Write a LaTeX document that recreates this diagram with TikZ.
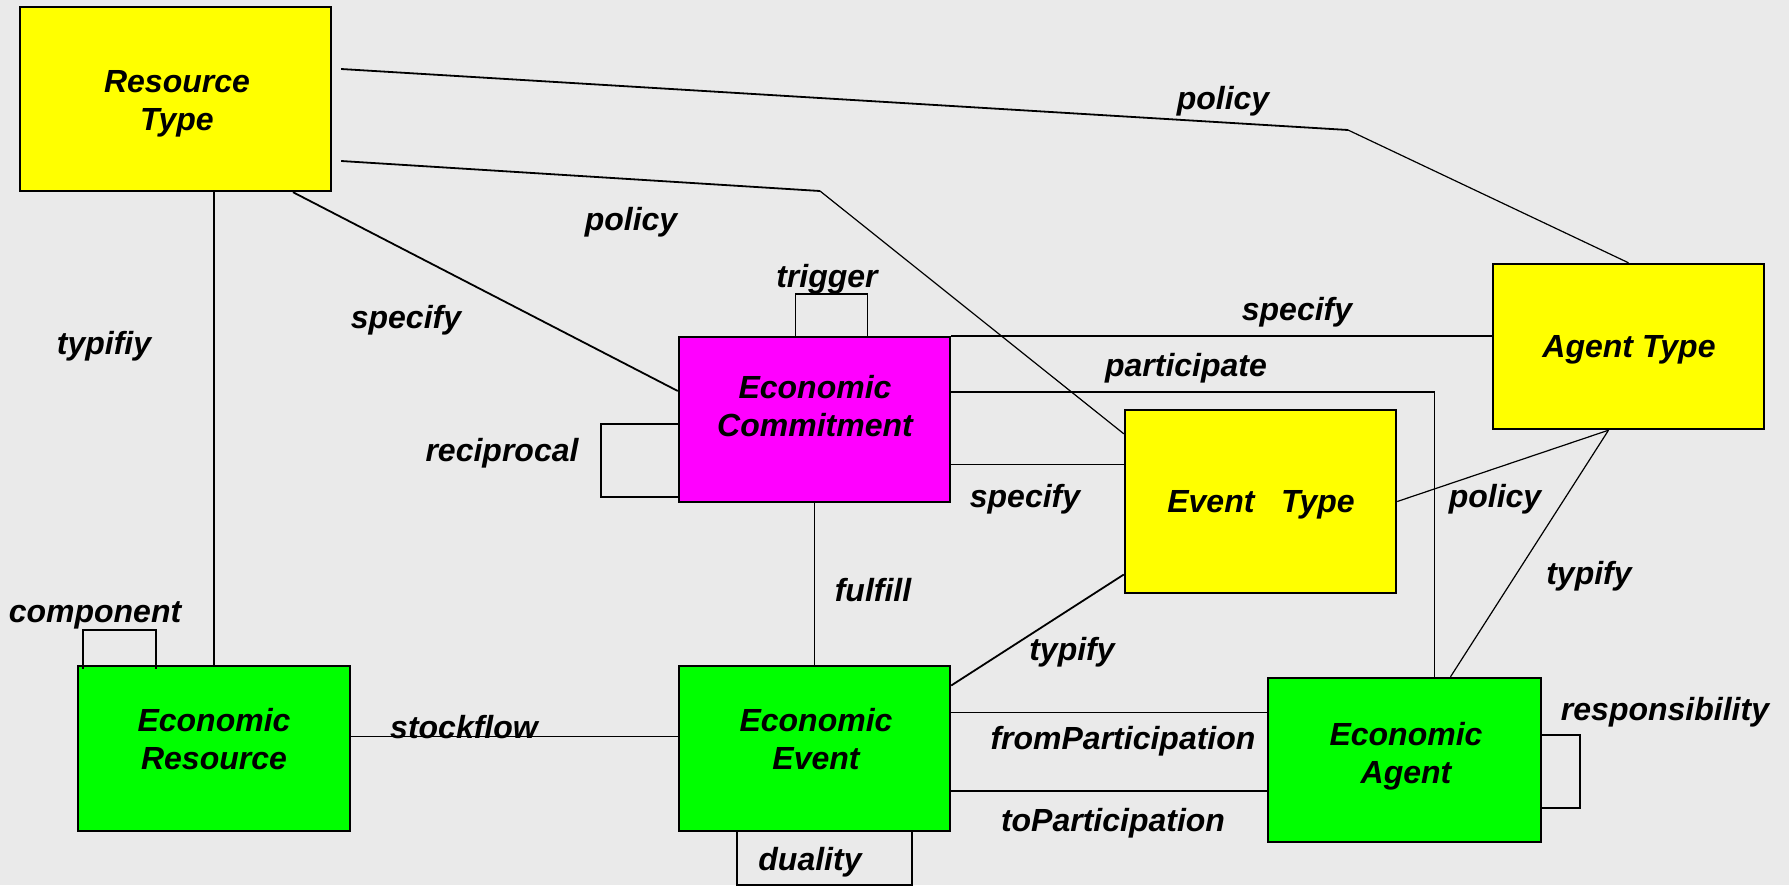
\documentclass[tikz,border=0pt]{standalone}
\usepackage{fontspec}
\setmainfont{Liberation Sans}
\usetikzlibrary{calc}
\definecolor{bggray}{RGB}{234,234,234}
\definecolor{boxyellow}{RGB}{255,255,0}
\definecolor{boxmagenta}{RGB}{255,0,255}
\definecolor{boxgreen}{RGB}{0,255,0}
\tikzstyle{box} = [draw=black, line width=1.2pt, inner sep=0pt, minimum width=135.5pt, minimum height=82.5pt]
\tikzstyle{lbl} = [font=\fontsize{16}{19.2}\selectfont\bfseries\itshape, inner sep=0pt]
\tikzstyle{btxt} = [lbl, align=center]
\tikzstyle{wire} = [line width=0.9pt]
\tikzstyle{thinwire} = [line width=0.6pt]

\begin{document}
\begin{tikzpicture}[x=0.5pt, y=-0.5pt]
        % Background
        \fill[bggray] (0,0) rectangle (1789,885);
        \useasboundingbox (0,0) rectangle (1789,885);

        % Boxes
        \node[box, fill=boxyellow, minimum width=155.5pt, minimum height=92pt] (rtype) at (175.5,99) {};
        \node[box, fill=boxmagenta] (ecom) at (814.5,419.5) {};
        \node[box, fill=boxyellow] (atype) at (1628.5,346.5) {};
        \node[box, fill=boxyellow, minimum height=91.5pt] (etype) at (1260.5,501.5) {};
        \node[box, fill=boxgreen, minimum width=136pt] (eres) at (214,748.5) {};
        \node[box, fill=boxgreen] (eevt) at (814.5,748.5) {};
        \node[box, fill=boxgreen, minimum width=136.5pt, minimum height=82pt] (eagt) at (1404.5,760) {};

        % Box texts
        \node[btxt] (rtype-t) at (177,104) {Resource\\Type};
        \node[btxt] (ecom-t) at (815,406) {Economic\\Commitment};
        \node[btxt] (atype-t) at (1629,350) {Agent Type};
        \node[btxt] (etype-t) at (1261,505) {Event\ \ \ Type};
        \node[btxt] (eres-t) at (214,739) {Economic\\Resource};
        \node[btxt] (eevt-t) at (816,739) {Economic\\Event};
        \node[btxt] (eagt-t) at (1406,756) {Economic\\Agent};

        % Bends
        \coordinate (bend1) at (1348,130);
        \coordinate (bend2) at (820,191);

        % Connectors
        \draw[wire] ([shift={(9,-30)}]rtype.east) -- (bend1);
        \draw[thinwire] (bend1) -- (atype.north);
        \draw[wire] ([shift={(9,62)}]rtype.east) -- (bend2);
        \draw[thinwire] (bend2) -- ([shift={(0,25)}]etype.north west);
        \draw[wire] ([shift={(117.5,0)}]rtype.south) -- ([shift={(0,-28.5)}]ecom.west);
        \draw[thinwire] (eres.north) -- (eres.north |- rtype.south);
        \draw[wire] (ecom.north east) -- (ecom.north east -| atype.west);
        \draw[thinwire] ([shift={(0,-27.5)}]ecom.east) -| ([shift={(30,0)}]eagt.north);
        \draw[wire] ([shift={(0,45)}]ecom.east) -- ([shift={(0,45)}]ecom.east -| etype.west);
        \draw[thinwire] (ecom.south) -- (eevt.north);
        \draw[thinwire] (etype.east) -- ([shift={(-20,0)}]atype.south);
        \draw[thinwire] ([shift={(-20,0)}]atype.south) -- ([shift={(46,0)}]eagt.north);
        \draw[wire] ([shift={(0,73)}]etype.west) -- ([shift={(0,-63)}]eevt.east);
        \draw[wire] ([shift={(0,-12)}]eres.east) -- ([shift={(0,-12)}]eevt.west);
        \draw[wire] ([shift={(0,-36)}]eevt.east) -- ([shift={(0,-36)}]eevt.east -| eagt.west);
        \draw[wire] ([shift={(0,42.5)}]eevt.east) -- ([shift={(0,42.5)}]eevt.east -| eagt.west);

        % Loops
        \draw[wire] ([shift={(-19,0)}]ecom.north) -- ++(0,-42) -- ++(72,0) -- ++(0,42);
        \draw[wire] ([shift={(0,4.5)}]ecom.west) -- ++(-77,0) -- ++(0,73) -- ++(77,0);
        \draw[wire] ([shift={(6,4)}]eres.north west) -- ++(0,-39) -- ++(73,0) -- ++(0,39);
        \draw[wire] ([shift={(0,-25)}]eagt.east) -- ++(38,0) -- ++(0,73) -- ++(-38,0);
        \draw[wire] ([shift={(-77.5,0)}]eevt.south) -- ++(0,53) -- ++(175,0) -- ++(0,-53);

        % Labels
        \node[lbl] (pol-a) at (1223,101) {policy};
        \node[lbl] (pol-b) at (631,222) {policy};
        \node[lbl] (spec-a) at (406,320) {specify};
        \node[lbl] (typ-a) at (104,346) {typifiy};
        \node[lbl] (trig) at (827,279) {trigger};
        \node[lbl] (spec-b) at (1297,312) {specify};
        \node[lbl] (part) at (1186,368) {participate};
        \node[lbl] (recip) at (502,453) {reciprocal};
        \node[lbl] (spec-c) at (1025,499) {specify};
        \node[lbl] (pol-c) at (1495,499) {policy};
        \node[lbl] (typ-b) at (1589,576) {typify};
        \node[lbl] (ful) at (873,590) {fulfill};
        \node[lbl] (typ-c) at (1072,652) {typify};
        \node[lbl] (comp) at (95,615) {component};
        \node[lbl] (stock) at (464,727) {stockflow};
        \node[lbl] (fpart) at (1123,741) {fromParticipation};
        \node[lbl] (tpart) at (1113,823) {toParticipation};
        \node[lbl] (resp) at (1665,712) {responsibility};
        \node[lbl] (dual) at (810,862) {duality};
\end{tikzpicture}
\end{document}
